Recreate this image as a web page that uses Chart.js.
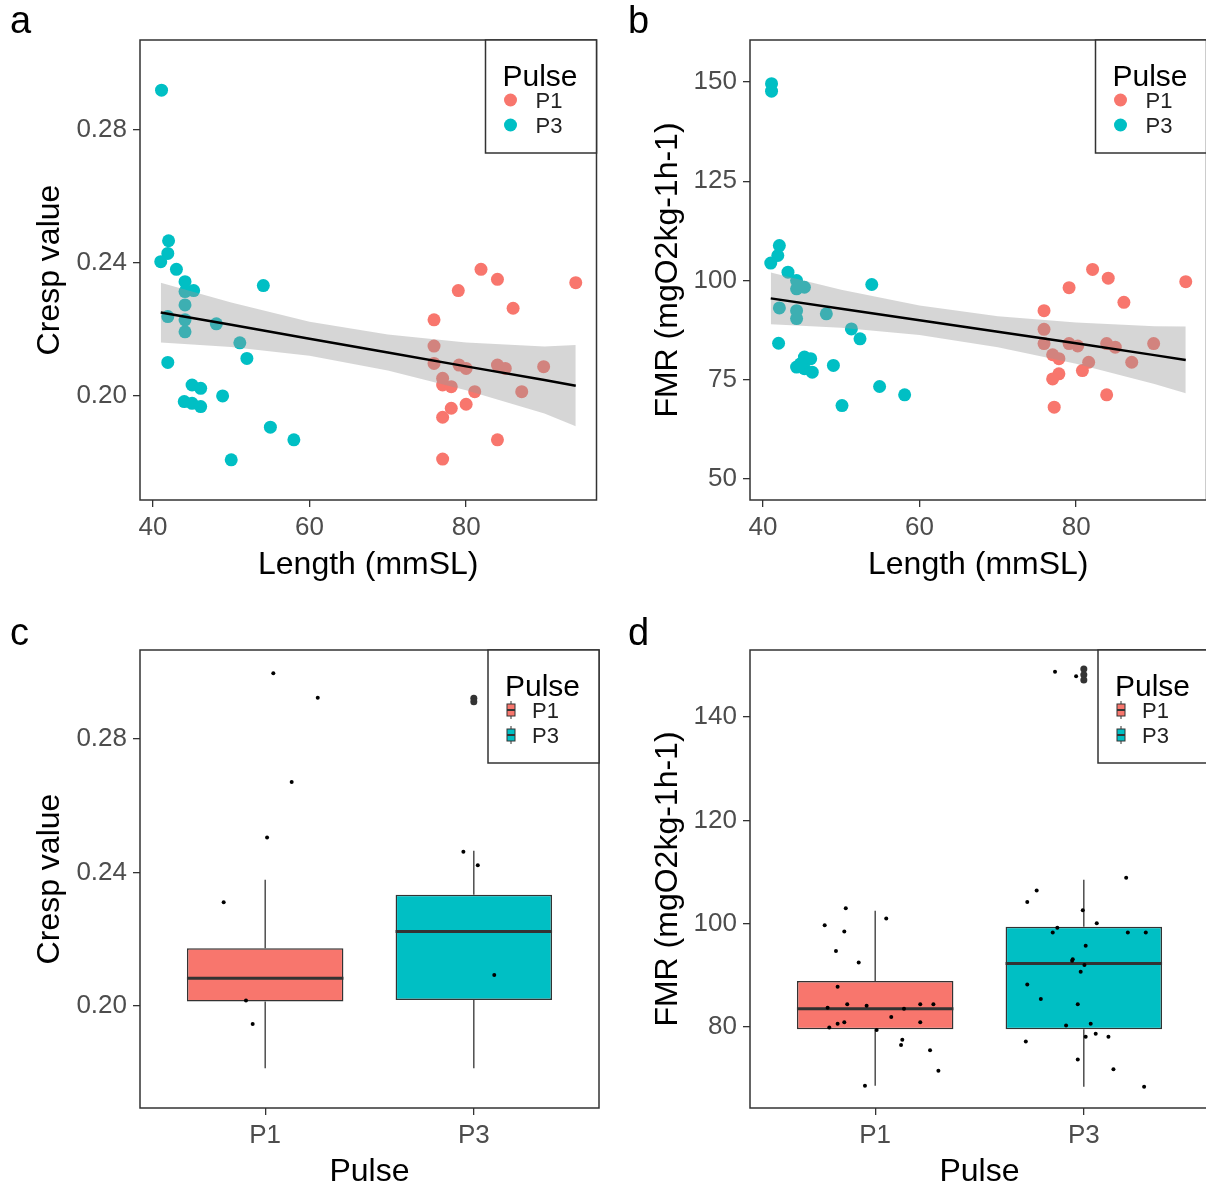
<!DOCTYPE html>
<html>
<head>
<meta charset="utf-8">
<script src="https://cdn.jsdelivr.net/npm/chart.js@4.4.1/dist/chart.umd.min.js"></script>
<style>
  html, body { margin: 0; padding: 0; background: #fff; }
  body { width: 1206px; height: 1188px; overflow: hidden; position: relative; }
  canvas { position: absolute; }
</style>
</head>
<body>
<canvas id="panelA" width="603" height="600" style="left:0;top:0"></canvas>
<canvas id="panelB" width="610" height="600" style="left:603px;top:0"></canvas>
<canvas id="panelC" width="603" height="588" style="left:0;top:600px"></canvas>
<canvas id="panelD" width="610" height="588" style="left:603px;top:600px"></canvas>
<script>
const pulses = ['P1', 'P3'];

// tick values
const lengthTicks = [40, 60, 80];
const crespTicks = [0.20, 0.24, 0.28];
const fmrTicksB = [50, 75, 100, 125, 150];
const fmrTicksD = [80, 100, 120, 140];

// panel a : Cresp vs length
const aLenP1 = [81.9, 84.0, 79.0, 94.0, 86.0, 75.9, 75.9, 75.9, 79.1, 80.0, 84.0, 85.0, 89.9, 77.0, 77.0, 78.1, 81.1, 87.1, 80.0, 78.1, 77.0, 84.0, 77.0];
const aCrespP1 = [0.2381, 0.2351, 0.2317, 0.2341, 0.2264, 0.2229, 0.2150, 0.2098, 0.2093, 0.2083, 0.2093, 0.2083, 0.2088, 0.2053, 0.2033, 0.2028, 0.2013, 0.2013, 0.1975, 0.1963, 0.1936, 0.1868, 0.1810];
const aLenP3 = [41.1, 42.0, 41.9, 41.0, 43.0, 44.1, 45.2, 44.1, 44.1, 41.9, 44.1, 44.1, 48.1, 54.1, 51.1, 52.0, 41.9, 45.0, 46.1, 44.0, 45.0, 46.1, 48.9, 55.0, 58.0, 50.0];
const aCrespP3 = [0.2920, 0.2467, 0.2429, 0.2404, 0.2381, 0.2344, 0.2317, 0.2314, 0.2274, 0.2239, 0.2229, 0.2193, 0.2217, 0.2332, 0.2160, 0.2113, 0.2101, 0.2033, 0.2023, 0.1983, 0.1978, 0.1968, 0.2000, 0.1906, 0.1868, 0.1808];

// fitted line and confidence band, read at these lengths
const fitLen = [41, 50, 60, 70, 80, 90, 94];
const aFit = [0.2251, 0.2214, 0.2172, 0.2131, 0.2089, 0.2048, 0.2031];
const aUpper = [0.2341, 0.2281, 0.2223, 0.2185, 0.2161, 0.2149, 0.2153];
const aLower = [0.2161, 0.2147, 0.2121, 0.2077, 0.2017, 0.1947, 0.1909];

// panel b : FMR vs length
const bLenP1 = [82.1, 84.1, 79.1, 94.0, 86.1, 75.9, 75.9, 75.9, 79.1, 80.2, 83.9, 85.0, 89.9, 77.0, 77.8, 81.6, 80.8, 87.1, 77.8, 77.0, 83.9, 77.2];
const bFmrP1 = [102.8, 100.6, 98.2, 99.7, 94.5, 92.4, 87.7, 84.1, 84.1, 83.5, 84.1, 83.2, 84.1, 81.3, 80.3, 79.4, 77.3, 79.4, 76.5, 75.2, 71.2, 68.1];
const bLenP3 = [41.1, 41.1, 42.1, 41.9, 41.0, 43.2, 44.3, 45.3, 44.3, 53.9, 42.1, 44.3, 44.3, 48.1, 51.3, 52.4, 42.0, 45.3, 46.1, 44.3, 45.3, 46.3, 44.8, 49.0, 54.9, 58.1, 50.1];
const bFmrP3 = [149.6, 147.7, 108.8, 106.3, 104.4, 102.1, 100.0, 98.3, 97.9, 99.0, 93.1, 92.4, 90.4, 91.6, 87.8, 85.3, 84.2, 80.7, 80.3, 78.2, 77.8, 76.9, 79.0, 78.6, 73.3, 71.2, 68.5];
const bFit = [95.5, 92.9, 90.0, 87.1, 84.2, 81.2, 80.0];
const bUpper = [102.0, 97.7, 93.7, 91.0, 89.4, 88.5, 88.4];
const bLower = [89.0, 88.1, 86.3, 83.2, 79.0, 73.9, 71.6];

// panel c : Cresp box plot by pulse
const cLow = [0.1813, 0.1813];
const cQ1 = [0.2013, 0.2018];
const cMed = [0.2083, 0.2223];
const cQ3 = [0.2173, 0.2333];
const cHigh = [0.2378, 0.2465];
const cOutP3 = [0.2922, 0.2912];
const cJitPos = [1.039, 1.252, 1.127, 1.009, 0.801, 0.908, 0.940, 1.950, 2.019, 2.098];
const cJitVal = [0.2997, 0.2924, 0.2671, 0.2505, 0.2311, 0.2016, 0.1946, 0.2462, 0.2422, 0.2093];

// panel d : FMR box plot by pulse
const dLow = [68.6, 68.4];
const dQ1 = [79.55, 79.55];
const dMed = [83.5, 92.3];
const dQ3 = [88.9, 99.4];
const dHigh = [102.5, 108.5];
const dOutP3 = [149.3, 148.2, 147.2];
const dJitPos = [0.859, 0.758, 0.852, 1.053, 0.812, 0.921, 0.820, 0.772, 0.866, 0.959, 1.138, 1.216, 1.279, 1.077, 0.780, 0.820, 0.852, 1.216, 1.007, 1.130, 1.124, 1.263, 1.303, 0.951,
                 1.862, 1.963, 2.203, 1.774, 1.729, 1.995, 2.062, 1.873, 1.851, 2.211, 2.297, 2.009, 1.947, 1.944, 2.003, 1.985, 1.729, 1.794, 1.971, 1.915, 2.033, 2.009, 2.057, 2.118, 1.722, 1.971, 2.142, 2.289];
const dJitVal = [103.0, 99.7, 98.5, 101.0, 94.7, 92.5, 87.8, 83.7, 84.4, 84.1, 83.5, 84.4, 84.4, 81.9, 79.9, 80.6, 80.9, 80.9, 79.4, 77.5, 76.5, 75.5, 71.5, 68.6,
                 148.8, 147.9, 108.9, 106.4, 104.2, 102.6, 100.1, 99.2, 98.3, 98.3, 98.3, 95.7, 93.1, 92.8, 92.0, 90.7, 88.2, 85.4, 84.4, 80.3, 80.6, 78.1, 78.7, 78.1, 77.2, 73.7, 71.8, 68.4];

const pulseColours = ['#F8766D', '#00BFC4'];
const tickGrey = '#4D4D4D';
const fontFamily = '"Liberation Sans", Arial, sans-serif';

Chart.defaults.font.family = fontFamily;
Chart.defaults.animation = false;

const ggDecor = {
  id: 'ggDecor',
  afterDraw(chart, args, o) {
    const ctx = chart.ctx;
    const ca = chart.chartArea;
    ctx.save();
    ctx.strokeStyle = '#333';
    ctx.lineWidth = 1.5;
    ctx.strokeRect(ca.left, ca.top, ca.right - ca.left, ca.bottom - ca.top);

    // ggplot style legend in the top right corner
    const w = 111, h = 113;
    const lx = ca.right - w, ly = ca.top;
    ctx.fillStyle = '#fff';
    ctx.fillRect(lx, ly, w, h);
    ctx.strokeRect(lx, ly, w, h);
    ctx.fillStyle = '#000';
    ctx.textBaseline = 'alphabetic';
    ctx.font = '30px ' + fontFamily;
    ctx.fillText('Pulse', lx + 17, ly + 46);
    ctx.font = '22px ' + fontFamily;
    pulses.forEach((p, i) => {
      const cy = ly + 60 + i * 25;
      if (o.kind === 'dot') {
        ctx.fillStyle = pulseColours[i];
        ctx.beginPath();
        ctx.arc(lx + 25, cy, 6.5, 0, Math.PI * 2);
        ctx.fill();
        ctx.fillStyle = '#222';
        ctx.fillText(p, lx + 50, cy + 8);
      } else {
        const gx = lx + 23;
        ctx.strokeStyle = '#333';
        ctx.lineWidth = 1;
        ctx.beginPath();
        ctx.moveTo(gx, cy - 9); ctx.lineTo(gx, cy + 9);
        ctx.stroke();
        ctx.fillStyle = pulseColours[i];
        ctx.fillRect(gx - 4, cy - 6, 8, 12);
        ctx.strokeRect(gx - 4, cy - 6, 8, 12);
        ctx.lineWidth = 2;
        ctx.beginPath();
        ctx.moveTo(gx - 4, cy); ctx.lineTo(gx + 4, cy);
        ctx.stroke();
        ctx.fillStyle = '#222';
        ctx.fillText(p, lx + 44, cy + 8);
      }
    });

    // panel letter
    ctx.fillStyle = '#000';
    ctx.font = '38px ' + fontFamily;
    ctx.fillText(o.letter, o.letterX, o.letterY);
    ctx.restore();
  }
};

function axes(opt) {
  return {
    x: {
      type: 'linear', min: opt.xMin, max: opt.xMax, offset: false,
      afterBuildTicks: s => { s.ticks = opt.xTicks.map(v => ({ value: v })); },
      afterFit: s => { s.height = opt.xH; },
      ticks: { color: tickGrey, font: { size: 26 }, padding: 5, autoSkip: false, maxRotation: 0, callback: opt.xFmt },
      grid: { offset: false, drawOnChartArea: false, tickLength: 7, color: '#333', lineWidth: 1.3 },
      border: { display: false },
      title: { display: true, text: opt.xTitle, color: '#000', font: { size: 32, lineHeight: 1 }, padding: { top: 0, bottom: opt.xTitlePad } }
    },
    y: {
      type: 'linear', min: opt.yMin, max: opt.yMax,
      afterBuildTicks: s => { s.ticks = opt.yTicks.map(v => ({ value: v })); },
      afterFit: s => { s.width = opt.yW; },
      ticks: { color: tickGrey, font: { size: 26 }, padding: 6, autoSkip: false, callback: opt.yFmt },
      grid: { drawOnChartArea: false, tickLength: 7, color: '#333', lineWidth: 1.3 },
      border: { display: false },
      title: { display: true, text: opt.yTitle, color: '#000', font: { size: 32, lineHeight: 1 }, padding: { top: opt.yTitlePad, bottom: 0 } }
    }
  };
}

function pts(xs, ys) {
  return xs.map((x, i) => ({ x: x, y: ys[i] }));
}

function scatterPanel(id, letter, letterX, lenP1, valP1, lenP3, valP3, fit, upper, lower, yOpt) {
  const datasets = [
    { type: 'line', data: pts(fitLen, fit), borderColor: '#000', borderWidth: 2.5, pointRadius: 0, fill: false, order: 1 },
    { type: 'line', data: pts(fitLen, lower), borderWidth: 0, borderColor: 'rgba(0,0,0,0)', pointRadius: 0, fill: false, order: 2 },
    { type: 'line', data: pts(fitLen, upper), borderWidth: 0, borderColor: 'rgba(0,0,0,0)', pointRadius: 0, fill: '-1', backgroundColor: 'rgba(153,153,153,0.4)', order: 2 },
    { type: 'scatter', data: pts(lenP1, valP1), backgroundColor: pulseColours[0], borderWidth: 0, pointRadius: 6.5, order: 3 },
    { type: 'scatter', data: pts(lenP3, valP3), backgroundColor: pulseColours[1], borderWidth: 0, pointRadius: 6.5, order: 3 }
  ];
  return new Chart(document.getElementById(id), {
    type: 'scatter',
    data: { datasets: datasets },
    options: {
      responsive: false,
      events: [],
      layout: { padding: { top: 40, right: 4, left: 0, bottom: 0 } },
      plugins: {
        legend: { display: false },
        tooltip: { enabled: false },
        ggDecor: { kind: 'dot', letter: letter, letterX: letterX, letterY: 33 }
      },
      scales: axes(Object.assign({
        xMin: 38.35, xMax: 96.65, xTicks: lengthTicks, xH: 100, xTitle: 'Length (mmSL)', xTitlePad: 19,
        xFmt: v => String(v)
      }, yOpt))
    },
    plugins: [ggDecor]
  });
}

function boxPanel(id, letter, letterX, low, q1, med, q3, high, outP3, jitPos, jitVal, yOpt, jitRadius) {
  const datasets = [];
  datasets.push({
    type: 'bar',
    data: pulses.map((p, i) => ({ x: i + 1, y: [q1[i], q3[i]] })),
    backgroundColor: pulseColours, borderColor: '#333', borderWidth: 1.5, borderSkipped: false,
    barPercentage: 0.75, categoryPercentage: 1, order: 4
  });
  pulses.forEach((p, i) => {
    datasets.push({ type: 'line', data: [{ x: i + 1, y: low[i] }, { x: i + 1, y: q1[i] }], borderColor: '#333', borderWidth: 1.3, pointRadius: 0, order: 5 });
    datasets.push({ type: 'line', data: [{ x: i + 1, y: q3[i] }, { x: i + 1, y: high[i] }], borderColor: '#333', borderWidth: 1.3, pointRadius: 0, order: 5 });
    datasets.push({ type: 'line', data: [{ x: i + 0.625, y: med[i] }, { x: i + 1.375, y: med[i] }], borderColor: '#333', borderWidth: 3, pointRadius: 0, order: 3 });
  });
  datasets.push({ type: 'scatter', data: outP3.map(v => ({ x: 2, y: v })), backgroundColor: '#333', borderWidth: 0, pointRadius: 3.5, order: 2 });
  datasets.push({ type: 'scatter', data: pts(jitPos, jitVal), backgroundColor: '#000', borderWidth: 0, pointRadius: jitRadius, order: 1 });
  return new Chart(document.getElementById(id), {
    type: 'bar',
    data: { datasets: datasets },
    options: {
      responsive: false,
      events: [],
      layout: { padding: { top: 50, right: 4, left: 0, bottom: 0 } },
      plugins: {
        legend: { display: false },
        tooltip: { enabled: false },
        ggDecor: { kind: 'box', letter: letter, letterX: letterX, letterY: 45 }
      },
      scales: axes(Object.assign({
        xMin: 0.4, xMax: 2.6, xTicks: [1, 2], xH: 80, xTitle: 'Pulse', xTitlePad: 0,
        xFmt: v => pulses[v - 1]
      }, yOpt))
    },
    plugins: [ggDecor]
  });
}

scatterPanel('panelA', 'a', 10, aLenP1, aCrespP1, aLenP3, aCrespP3, aFit, aUpper, aLower, {
  yMin: 0.1687, yMax: 0.3071, yTicks: crespTicks, yW: 140, yTitle: 'Cresp value', yTitlePad: 34, yFmt: v => v.toFixed(2)
});
scatterPanel('panelB', 'b', 25, bLenP1, bFmrP1, bLenP3, bFmrP3, bFit, bUpper, bLower, {
  yMin: 44.7, yMax: 160.6, yTicks: fmrTicksB, yW: 147, yTitle: 'FMR (mgO2kg-1h-1)', yTitlePad: 49, yFmt: v => String(v)
});
boxPanel('panelC', 'c', 10, cLow, cQ1, cMed, cQ3, cHigh, cOutP3, cJitPos, cJitVal, {
  yMin: 0.1694, yMax: 0.3067, yTicks: crespTicks, yW: 140, yTitle: 'Cresp value', yTitlePad: 34, yFmt: v => v.toFixed(2)
}, 2);
boxPanel('panelD', 'd', 25, dLow, dQ1, dMed, dQ3, dHigh, dOutP3, dJitPos, dJitVal, {
  yMin: 64.3, yMax: 153.0, yTicks: fmrTicksD, yW: 147, yTitle: 'FMR (mgO2kg-1h-1)', yTitlePad: 49, yFmt: v => String(v)
}, 2);
</script>
</body>
</html>
